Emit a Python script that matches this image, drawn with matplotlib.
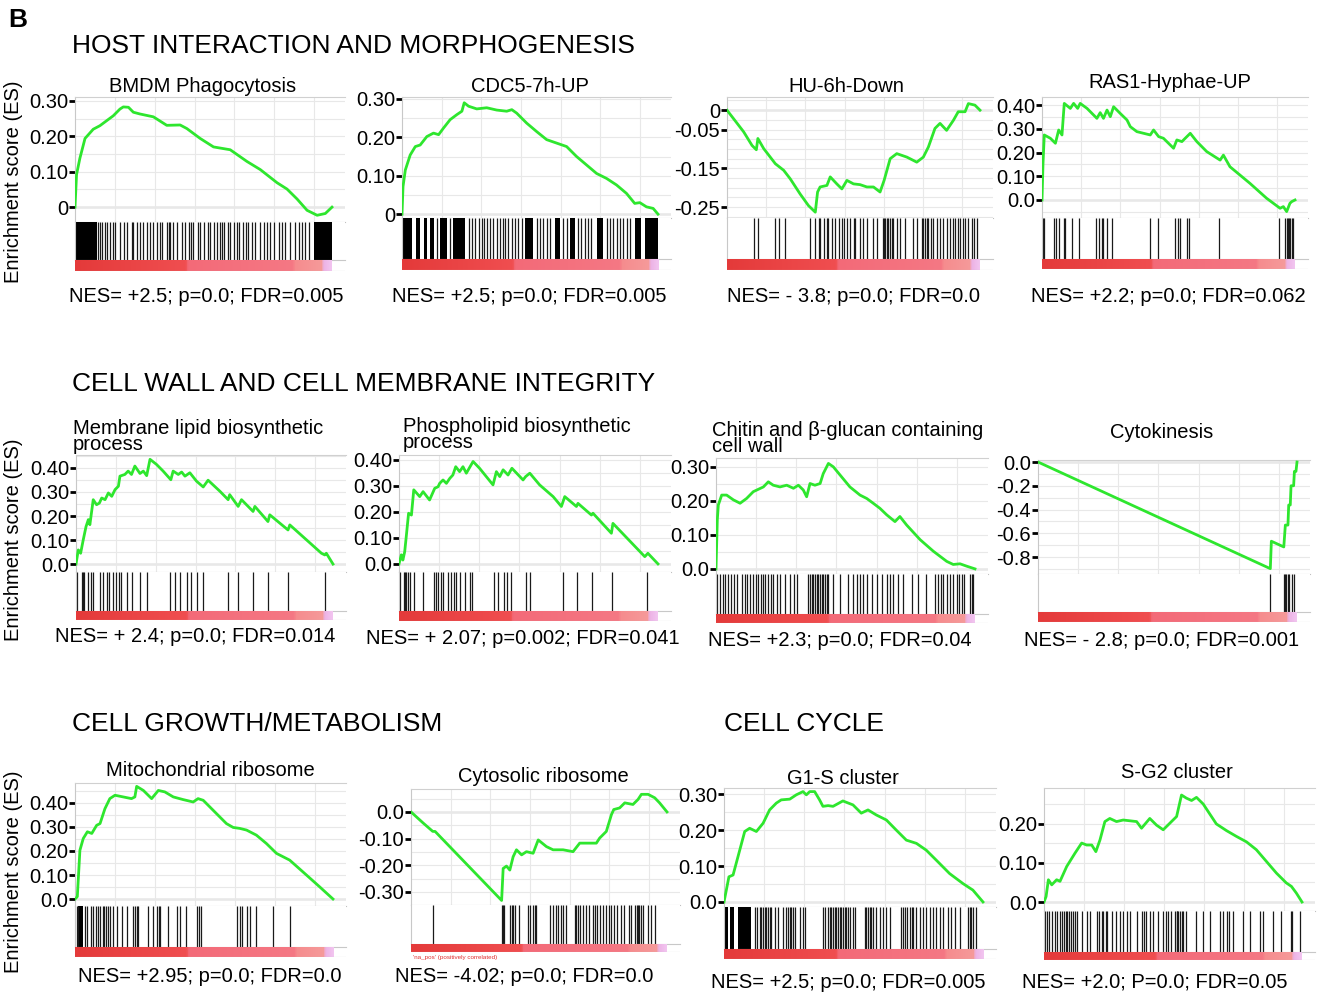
import numpy as np
import matplotlib
matplotlib.use("Agg")
import matplotlib.pyplot as plt
from matplotlib.colors import LinearSegmentedColormap

plt.rcParams['font.family'] = ['Liberation Sans', 'DejaVu Sans']

# ---- data: ES curves (x = % of ranked list), hits (% of ranked list) ----
bmdm_x = [0, 0.6, 1.9, 3.9, 7.1, 9.7, 14.9, 17.5, 18.8, 20.8, 22.7, 25.3, 30.5, 35.7, 40.9, 43.5, 48.7,
          53.9, 60.4, 66.9, 72.1, 78.6, 82.5, 86.4, 90.3, 94.2, 97.4, 100]
bmdm_es = [0, 0.092, 0.138, 0.194, 0.22, 0.23, 0.258, 0.277, 0.283, 0.282, 0.268, 0.263, 0.255, 0.231,
           0.232, 0.222, 0.194, 0.17, 0.162, 0.129, 0.106, 0.069, 0.051, 0.023, -0.009, -0.023, -0.018, 0]
bmdm_hits = [9.1, 9.7, 10.4, 11.7, 12.3, 13.6, 14.9, 15.6, 17.5, 19.1, 20.1, 22.1, 22.7, 24.0, 25.1, 26.6,
             27.9, 29.0, 30.5, 31.8, 32.9, 33.8, 35.7, 36.4, 37.0, 38.3, 39.6, 41.6, 42.9, 44.2, 45.1, 46.1,
             47.7, 48.7, 50.3, 51.6, 52.6, 53.9, 55.2, 56.5, 57.1, 58.1, 59.4, 60.4, 61.7, 63.0, 64.0, 65.3,
             66.6, 67.5, 68.8, 70.1, 72.1, 73.4, 74.7, 76.0, 77.3, 79.2, 80.5, 81.8, 83.8, 85.7, 87.0, 88.3,
             89.6, 90.9]
bmdm_blocks = [(0, 8.5), (93, 100)]

cdc5_x = [0, 0.4, 1.3, 3.2, 5.2, 7.1, 9.7, 12.3, 14.3, 16.2, 18.8, 21.4, 23.4, 24.3, 26.0, 29.2, 33.1,
          37.0, 40.9, 42.9, 44.8, 48.7, 52.6, 56.5, 60.4, 64.3, 68.2, 72.1, 76.0, 79.9, 83.8, 87.7, 90.9,
          92.9, 95.5, 98.1, 100]
cdc5_es = [0, 0.072, 0.115, 0.154, 0.176, 0.18, 0.202, 0.211, 0.207, 0.224, 0.246, 0.259, 0.268, 0.29,
           0.281, 0.274, 0.277, 0.271, 0.268, 0.272, 0.263, 0.237, 0.215, 0.194, 0.185, 0.176, 0.15, 0.128,
           0.106, 0.093, 0.076, 0.054, 0.028, 0.03, 0.019, 0.015, 0]
cdc5_hits = [13.6, 18.8, 26.0, 27.3, 28.6, 29.9, 31.2, 32.1, 33.1, 34.4, 35.7, 37.0, 38.1, 39.4, 40.3,
             41.6, 42.9, 44.2, 45.5, 46.8, 52.6, 53.9, 55.2, 56.5, 57.8, 63.0, 64.3, 68.8, 70.1, 71.4,
             72.7, 74.0, 79.9, 81.2, 82.5, 83.8, 85.1, 86.4, 87.7, 89.0]
cdc5_blocks = [(0, 3.9), (5.6, 7.1), (8.4, 9.7), (11.0, 12.6), (14.9, 17.5), (20.1, 24.7), (48.0, 51.3),
               (59.7, 61.7), (65.6, 67.5), (76.0, 78.6), (90.9, 93.5), (94.8, 100)]

hu_x = [0, 2.6, 6.6, 9.9, 11.6, 12.2, 14.5, 17.1, 19.1, 22.4, 25.0, 28.9, 32.2, 34.9, 35.8, 36.8, 39.5,
        40.8, 43.4, 45.4, 47.4, 50.0, 52.6, 55.3, 57.9, 60.5, 62.1, 64.5, 67.1, 71.1, 75.0, 77.6, 79.6,
        82.2, 84.2, 86.8, 89.5, 91.4, 94.1, 95.4, 98.0, 100]
hu_es = [0, -0.022, -0.056, -0.091, -0.102, -0.073, -0.099, -0.121, -0.138, -0.155, -0.177, -0.216,
         -0.246, -0.263, -0.211, -0.198, -0.194, -0.172, -0.19, -0.203, -0.181, -0.19, -0.192, -0.198,
         -0.198, -0.211, -0.181, -0.125, -0.112, -0.121, -0.134, -0.121, -0.095, -0.047, -0.034, -0.052,
         -0.026, -0.004, -0.004, 0.017, 0.013, 0]
hu_hits = [10.5, 12.1, 19.1, 20.4, 23.0, 32.9, 34.9, 36.2, 36.8, 38.2, 39.5, 40.1, 41.4, 42.8, 44.1,
           45.4, 46.1, 47.4, 48.7, 50.0, 50.7, 52.6, 53.9, 55.3, 57.9, 59.2, 61.6, 62.1, 62.6, 63.2, 63.8,
           64.5, 65.1, 65.8, 67.1, 68.4, 70.4, 73.7, 75.0, 77.0, 77.6, 78.3, 78.9, 79.6, 80.5, 81.6, 82.9,
           84.2, 85.5, 86.8, 88.2, 89.2, 90.1, 91.2, 92.1, 93.4, 94.1, 95.4, 96.7, 97.6, 98.7]

ras1_x = [0, 0.4, 0.9, 3.3, 5.3, 6.6, 7.9, 8.8, 11.2, 12.5, 14.1, 15.1, 17.8, 20.4, 21.7, 23.0, 24.3,
          25.7, 27.0, 28.3, 30.9, 33.6, 34.9, 37.5, 42.8, 44.1, 46.1, 48.0, 52.0, 53.3, 55.3, 56.6, 58.6,
          61.2, 65.1, 70.4, 71.7, 74.3, 82.2, 88.8, 94.1, 95.4, 96.7, 98.0, 98.7, 100]
ras1_es = [0, 0.154, 0.274, 0.26, 0.239, 0.295, 0.274, 0.407, 0.386, 0.407, 0.386, 0.407, 0.386, 0.358,
           0.344, 0.368, 0.344, 0.379, 0.351, 0.393, 0.365, 0.337, 0.309, 0.288, 0.274, 0.295, 0.267, 0.26,
           0.218, 0.253, 0.246, 0.26, 0.281, 0.246, 0.204, 0.168, 0.189, 0.14, 0.07, 0.007, -0.035, -0.028,
           -0.049, -0.014, -0.007, 0]
ras1_hits = [0.3, 0.7, 4.6, 5.5, 6.6, 8.6, 9.2, 11.8, 14.5, 21.4, 22.4, 23.7, 24.3, 25.7, 27.6, 42.8,
             45.7, 52.6, 53.6, 54.6, 57.2, 58.3, 70.1, 93.8, 96.1, 96.7, 97.1, 97.6, 98.0, 98.7, 99.3]

memb_x = [0, 0.9, 1.8, 2.8, 3.9, 4.8, 5.4, 6.7, 8.0, 9.1, 10.0, 11.3, 12.6, 13.9, 15.2, 16.5, 17.1,
          19.0, 20.3, 21.6, 22.9, 24.9, 26.2, 27.5, 28.8, 31.3, 33.9, 36.9, 37.8, 39.8, 41.1, 42.4, 44.3,
          46.9, 49.5, 51.4, 56.0, 59.2, 59.8, 63.1, 64.4, 68.9, 69.6, 74.7, 75.4, 82.5, 83.2, 95.5, 96.8,
          97.4, 100]
memb_es = [0, 0.059, 0.045, 0.1, 0.156, 0.185, 0.164, 0.268, 0.247, 0.254, 0.275, 0.268, 0.296, 0.282,
           0.31, 0.324, 0.366, 0.373, 0.387, 0.373, 0.408, 0.377, 0.387, 0.368, 0.436, 0.415, 0.387, 0.351,
           0.387, 0.373, 0.383, 0.366, 0.38, 0.345, 0.321, 0.349, 0.303, 0.268, 0.289, 0.24, 0.268, 0.219,
           0.24, 0.177, 0.205, 0.142, 0.163, 0.045, 0.038, 0.045, 0]
memb_hits = [0.5, 2.2, 2.8, 3.2, 4.8, 5.7, 6.5, 9.3, 10.6, 11.9, 13.0, 14.5, 15.5, 16.8, 17.7, 19.7,
             21.6, 24.9, 27.5, 36.5, 38.5, 40.4, 43.0, 44.9, 46.9, 49.5, 59.2, 63.1, 68.9, 74.7, 82.5, 96.8]

phos_x = [0, 0.9, 1.5, 2.2, 2.8, 3.7, 4.8, 5.7, 8.0, 9.3, 11.8, 13.8, 15.1, 15.7, 17.0, 18.3, 19.6,
          20.8, 21.9, 23.4, 24.7, 26.0, 28.6, 31.1, 36.3, 37.6, 38.9, 40.2, 42.1, 43.6, 47.9, 48.9, 50.5,
          54.3, 59.5, 62.7, 64.0, 68.5, 69.1, 74.3, 74.9, 82.0, 82.6, 94.9, 96.1, 100]
phos_es = [0, 0.035, 0.015, 0.047, 0.105, 0.195, 0.188, 0.285, 0.259, 0.278, 0.246, 0.291, 0.297, 0.31,
           0.323, 0.31, 0.329, 0.342, 0.374, 0.355, 0.374, 0.349, 0.394, 0.368, 0.304, 0.355, 0.336, 0.362,
           0.342, 0.368, 0.323, 0.336, 0.349, 0.304, 0.259, 0.221, 0.259, 0.221, 0.233, 0.188, 0.195,
           0.118, 0.156, 0.028, 0.041, 0]
phos_hits = [0.5, 1.9, 2.4, 2.8, 3.5, 4.1, 5.7, 9.3, 13.4, 14.2, 15.1, 16.3, 17.0, 18.9, 19.9, 21.1,
             21.9, 23.7, 25.4, 27.3, 28.3, 36.6, 38.2, 40.4, 41.7, 43.4, 48.9, 50.5, 63.3, 68.7, 74.6,
             82.4, 95.8]

chit_x = [0, 0.5, 0.9, 2.2, 4.1, 6.7, 9.3, 11.8, 14.4, 18.3, 20.2, 22.1, 24.7, 27.3, 29.9, 31.8, 33.7,
          35.0, 36.3, 38.2, 40.2, 41.4, 43.4, 45.3, 47.9, 51.7, 55.6, 58.2, 60.7, 63.3, 65.9, 69.1, 71.0,
          73.6, 78.8, 83.9, 86.5, 89.1, 91.6, 94.2, 96.8, 100]
chit_es = [0, 0.144, 0.188, 0.217, 0.217, 0.203, 0.193, 0.207, 0.227, 0.241, 0.256, 0.246, 0.241, 0.246,
           0.237, 0.246, 0.232, 0.212, 0.251, 0.246, 0.251, 0.28, 0.31, 0.3, 0.276, 0.241, 0.217, 0.207,
           0.193, 0.178, 0.159, 0.139, 0.154, 0.129, 0.086, 0.052, 0.037, 0.022, 0.013, 0.015, 0.008, 0]
chit_hits = [0.5, 1.5, 2.6, 3.5, 4.8, 5.7, 6.9, 8.2, 9.9, 11.2, 11.8, 13.1, 14.4, 15.4, 16.3, 17.2, 18.0,
             18.9, 20.2, 21.1, 22.1, 23.4, 24.7, 26.6, 28.6, 30.1, 31.1, 35.6, 36.3, 36.9, 37.6, 38.2,
             38.9, 39.5, 40.2, 40.8, 41.4, 42.1, 42.7, 43.4, 45.0, 47.9, 51.1, 53.0, 54.3, 55.6, 56.9, 58.2,
             60.1, 62.0, 64.0, 65.9, 67.2, 68.5, 70.4, 72.3, 75.5, 78.1, 81.1, 84.6, 85.8, 86.7, 87.8,
             89.1, 90.3, 91.6, 92.9, 93.8, 94.9, 95.8, 98.1, 98.7, 99.4]

cyto_x = [0, 89.7, 90.1, 94.9, 95.5, 96.5, 96.8, 97.4, 97.7, 98.7, 99.0, 99.6, 100]
cyto_es = [0, -0.898, -0.667, -0.715, -0.531, -0.531, -0.362, -0.362, -0.2, -0.2, -0.079, -0.079, 0]
cyto_hits = [89.7, 94.9, 95.5, 95.9, 96.5, 97.0, 98.1, 99.0]

mito_x = [0, 0.9, 1.9, 3.2, 4.8, 6.5, 8.4, 9.7, 11.6, 13.5, 15.5, 18.7, 21.9, 23.2, 23.9, 26.5, 29.7,
          32.3, 34.8, 38.1, 41.9, 45.8, 47.7, 49.7, 53.5, 58.7, 61.3, 63.9, 66.5, 70.3, 74.2, 78.1, 83.2,
          89.7, 94.8, 100]
mito_es = [0, 0.01, 0.203, 0.252, 0.28, 0.273, 0.307, 0.314, 0.376, 0.418, 0.432, 0.425, 0.418, 0.425,
           0.469, 0.452, 0.418, 0.452, 0.446, 0.425, 0.414, 0.404, 0.418, 0.411, 0.37, 0.314, 0.298, 0.294,
           0.287, 0.266, 0.231, 0.19, 0.162, 0.1, 0.051, 0]
mito_hits = [0.6, 1.3, 3.9, 4.8, 6.1, 7.1, 8.0, 9.0, 9.7, 10.7, 11.4, 12.0, 12.6, 13.5, 14.8, 16.1,
             18.1, 20.0, 22.6, 23.2, 23.9, 24.3, 28.4, 30.3, 31.6, 32.5, 32.9, 36.1, 39.4, 40.6, 43.2,
             47.4, 48.0, 49.0, 62.6, 63.9, 64.9, 66.5, 67.7, 70.3, 76.8, 83.2]
mito_blocks = [(1.0, 3.2)]

ribo_x = [0, 4.8, 8.5, 9.4, 35.4, 36.0, 37.3, 38.6, 39.9, 41.2, 43.2, 45.1, 47.7, 49.7, 52.9, 55.5,
          59.4, 63.3, 65.9, 68.5, 72.4, 73.7, 76.3, 78.3, 79.2, 81.5, 83.5, 86.7, 88.7, 90.0, 92.6, 95.2,
          97.1, 100]
ribo_es = [0, -0.042, -0.073, -0.073, -0.332, -0.212, -0.203, -0.218, -0.168, -0.142, -0.161, -0.149,
           -0.155, -0.105, -0.13, -0.142, -0.142, -0.149, -0.117, -0.117, -0.117, -0.098, -0.073, -0.01,
           0.009, 0.015, 0.034, 0.028, 0.047, 0.066, 0.066, 0.053, 0.034, 0]
ribo_hits = [8.5, 35.4, 35.8, 36.3, 38.6, 39.3, 39.9, 40.6, 42.3, 45.8, 46.4, 47.5, 48.4, 49.0, 54.3,
             55.3, 56.6, 57.5, 58.4, 59.4, 60.7, 64.0, 64.6, 65.4, 66.2, 67.0, 68.3, 69.6, 70.9, 71.8,
             72.7, 74.0, 75.0, 76.3, 77.4, 78.3, 79.2, 80.5, 82.2, 83.1, 85.2, 86.1, 87.4, 88.3, 88.7,
             89.1, 90.0, 90.6, 92.6, 93.9, 95.2]

g1s_x = [0, 0.9, 1.9, 3.5, 5.4, 8.0, 9.9, 12.5, 15.1, 17.6, 20.2, 22.1, 25.4, 27.9, 30.5, 31.8, 33.1,
         35.0, 36.9, 38.2, 40.2, 42.1, 45.9, 49.8, 53.0, 55.6, 58.8, 62.7, 66.5, 70.4, 74.3, 78.1, 82.0,
         87.1, 92.3, 96.1, 100]
g1s_es = [0, 0.033, 0.07, 0.075, 0.126, 0.196, 0.205, 0.196, 0.219, 0.256, 0.275, 0.284, 0.286, 0.298,
          0.307, 0.298, 0.307, 0.307, 0.284, 0.266, 0.268, 0.266, 0.281, 0.27, 0.247, 0.256, 0.242, 0.228,
          0.2, 0.172, 0.163, 0.144, 0.116, 0.079, 0.051, 0.033, 0]
g1s_hits = [11.8, 12.7, 13.8, 14.4, 15.1, 15.7, 16.3, 17.0, 17.6, 18.3, 19.6, 20.8, 22.8, 24.1, 24.7,
            25.4, 26.0, 26.6, 27.3, 29.2, 30.5, 31.1, 38.2, 38.9, 40.2, 40.8, 41.4, 42.1, 42.7, 43.4, 44.0,
            44.7, 45.3, 45.9, 46.6, 47.2, 47.9, 48.5, 49.8, 50.5, 54.3, 55.0, 55.6, 56.3, 56.9, 57.5, 58.8,
            60.1, 61.4, 62.7, 64.0, 68.5, 69.2, 69.8, 70.5, 71.7, 72.4, 73.0, 74.3, 75.5, 76.8, 78.1, 79.4,
            80.7, 82.0, 83.3, 84.6, 86.5, 87.8, 89.1, 91.0, 94.2, 94.9, 95.5, 96.1, 97.4]
g1s_blocks = [(0, 1.5), (2.5, 4.0), (5.5, 10.5)]

sg2_x = [0, 0.8, 1.7, 3.0, 4.9, 6.2, 8.8, 12.0, 14.6, 16.5, 18.5, 20.1, 21.7, 23.6, 25.5, 28.1, 30.7,
         33.3, 35.9, 37.8, 41.0, 43.6, 46.2, 48.8, 51.4, 53.3, 55.2, 57.2, 59.1, 61.7, 66.8, 70.7, 74.6,
         78.5, 82.3, 86.2, 90.1, 93.9, 95.9, 97.8, 100]
sg2_es = [0, 0.014, 0.057, 0.044, 0.057, 0.053, 0.091, 0.125, 0.151, 0.146, 0.146, 0.129, 0.159, 0.206,
          0.214, 0.206, 0.21, 0.208, 0.206, 0.189, 0.214, 0.197, 0.185, 0.202, 0.219, 0.274, 0.266, 0.26,
          0.268, 0.251, 0.2, 0.183, 0.168, 0.154, 0.134, 0.104, 0.074, 0.049, 0.04, 0.023, 0]
sg2_hits = [0.4, 1.3, 2.1, 3.0, 4.3, 4.9, 6.2, 6.8, 7.7, 8.5, 9.0, 9.8, 10.3, 11.1, 12.0, 12.9, 14.6,
            16.5, 17.8, 20.6, 21.4, 22.3, 23.0, 24.0, 24.5, 26.2, 27.9, 29.4, 30.7, 32.0, 33.3, 35.9, 37.8,
            38.7, 39.7, 41.0, 42.3, 44.3, 46.2, 47.2, 48.1, 49.4, 50.7, 51.4, 51.7, 52.1, 52.6, 53.3, 53.9,
            55.2, 59.1, 61.7, 64.3, 68.1, 69.4, 71.0, 71.7, 73.3, 77.2, 79.7, 83.6, 84.9, 88.8, 92.0, 95.6,
            96.3, 99.1]

titles = ["BMDM Phagocytosis", "CDC5-7h-UP", "HU-6h-Down", "RAS1-Hyphae-UP",
          "Membrane lipid biosynthetic\nprocess", "Phospholipid biosynthetic\nprocess",
          "Chitin and \u03b2-glucan containing\ncell wall", "Cytokinesis",
          "Mitochondrial ribosome", "Cytosolic ribosome", "G1-S cluster", "S-G2 cluster"]
stats = ["NES= +2.5; p=0.0; FDR=0.005", "NES= +2.5; p=0.0; FDR=0.005", "NES= - 3.8; p=0.0; FDR=0.0",
         "NES= +2.2; p=0.0; FDR=0.062", "NES= + 2.4; p=0.0; FDR=0.014", "NES= + 2.07; p=0.002; FDR=0.041",
         "NES= +2.3; p=0.0; FDR=0.04", "NES= - 2.8; p=0.0; FDR=0.001", "NES= +2.95; p=0.0; FDR=0.0",
         "NES= -4.02; p=0.0; FDR=0.0", "NES= +2.5; p=0.0; FDR=0.005", "NES= +2.0; P=0.0; FDR=0.05"]
yticks = [[0, 0.10, 0.20, 0.30], [0, 0.10, 0.20, 0.30], [0, -0.05, -0.15, -0.25],
          [0.0, 0.10, 0.20, 0.30, 0.40], [0.0, 0.10, 0.20, 0.30, 0.40], [0.0, 0.10, 0.20, 0.30, 0.40],
          [0.0, 0.10, 0.20, 0.30], [0.0, -0.2, -0.4, -0.6, -0.8], [0.0, 0.10, 0.20, 0.30, 0.40],
          [0.0, -0.10, -0.20, -0.30], [0.0, 0.10, 0.20, 0.30], [0.0, 0.10, 0.20]]
ylabels = [["0", "0.10", "0.20", "0.30"], ["0", "0.10", "0.20", "0.30"], ["0", "-0.05", "-0.15", "-0.25"],
           ["0.0", "0.10", "0.20", "0.30", "0.40"], ["0.0", "0.10", "0.20", "0.30", "0.40"],
           ["0.0", "0.10", "0.20", "0.30", "0.40"], ["0.0", "0.10", "0.20", "0.30"],
           ["0.0", "-0.2", "-0.4", "-0.6", "-0.8"], ["0.0", "0.10", "0.20", "0.30", "0.40"],
           ["0.0", "-0.10", "-0.20", "-0.30"], ["0.0", "0.10", "0.20", "0.30"], ["0.0", "0.10", "0.20"]]

curves = [(bmdm_x, bmdm_es, bmdm_hits, bmdm_blocks), (cdc5_x, cdc5_es, cdc5_hits, cdc5_blocks),
          (hu_x, hu_es, hu_hits, []), (ras1_x, ras1_es, ras1_hits, []),
          (memb_x, memb_es, memb_hits, []), (phos_x, phos_es, phos_hits, []),
          (chit_x, chit_es, chit_hits, []), (cyto_x, cyto_es, cyto_hits, []),
          (mito_x, mito_es, mito_hits, mito_blocks), (ribo_x, ribo_es, ribo_hits, []),
          (g1s_x, g1s_es, g1s_hits, g1s_blocks), (sg2_x, sg2_es, sg2_hits, [])]

# ---- layout in pixels: x0, data width, top, es bottom, hits bottom, bar bottom, ylim ----
layout = [
    (75, 257, 97, 222, 260, 271, (-0.042, 0.311)),
    (402, 256, 97, 218, 259, 270, (-0.010, 0.305)),
    (727, 253, 97, 218, 259, 270, (-0.278, 0.034)),
    (1042, 253, 97, 218, 259, 269, (-0.076, 0.434)),
    (76, 257, 455, 572, 611, 620, (-0.033, 0.454)),
    (399, 259, 455, 572, 611, 621, (-0.031, 0.419)),
    (716, 259, 458, 574, 614, 623, (-0.015, 0.326)),
    (1038, 259, 460, 574, 612, 622, (-0.943, 0.017)),
    (75, 258, 783, 906, 947, 957, (-0.029, 0.483)),
    (411, 256, 789, 905, 944, 952, (-0.349, 0.086)),
    (724, 259, 788, 907, 949, 959, (-0.014, 0.317)),
    (1044, 258, 788, 911, 952, 960, (-0.023, 0.292)),
]
title_pos = [(203, 86, 'center'), (530, 86, 'center'), (846, 86, 'center'), (1170, 82, 'center'),
             (73, 436, 'left'), (403, 434, 'left'), (712, 439, 'left'), (1162, 432, 'center'),
             (210, 770, 'center'), (543, 776, 'center'), (843, 778, 'center'), (1177, 772, 'center')]
stat_pos = [(206, 296), (529, 296), (853, 296), (1168, 296), (195, 636), (523, 638), (840, 640),
            (1162, 640), (210, 976), (524, 976), (848, 982), (1155, 982)]

W, H = 1326, 994
fig = plt.figure(figsize=(W / 100, H / 100), dpi=100)

bar_cmap = LinearSegmentedColormap.from_list("rank", [
    (0.0, '#e43a3a'), (0.43, '#f04e50'), (0.44, '#f36a78'), (0.85, '#f57884'),
    (0.86, '#f68c8e'), (0.965, '#f59a9a'), (0.97, '#ecb2e4'), (1.0, '#f2c4f0')])
grad = np.linspace(0, 1, 400).reshape(1, -1)

XMAX = 105

for i in range(12):
    x0, w, top, esb, hb, bb, ylim = layout[i]
    xs, es, hits, blocks = curves[i]
    aw = w * XMAX / 100.0

    ax = fig.add_axes([x0 / W, 1 - esb / H, aw / W, (esb - top) / H])
    ax.set_xticks(np.arange(15.5, 101, 15.5))
    ax.tick_params(axis='x', length=0, labelbottom=False)
    tk = yticks[i]
    ax.set_yticks(tk)
    ax.set_yticklabels(ylabels[i])
    step = abs(tk[1] - tk[0]) / 2.0
    ax.set_yticks(np.arange(min(tk) - step, max(tk) + 2 * step, step), minor=True)
    ax.set_xlim(0, XMAX)
    ax.set_ylim(*ylim)
    ax.tick_params(axis='y', which='major', length=4, width=2, color='black', pad=1, labelsize=14.5)
    ax.tick_params(axis='y', which='minor', length=0)
    ax.grid(True, which='both', color='#e8e8e8', lw=0.8)
    ax.axhline(0, color='#a8a8a8', lw=1.0, zorder=1)
    ax.spines['right'].set_visible(False)
    ax.spines['left'].set_color('#c8c8c8')
    ax.spines['top'].set_color('#d0d0d0')
    ax.spines['bottom'].set_color('#c0c0c0')
    ax.spines['bottom'].set_linewidth(0.8)
    ax.plot(xs, es, color='#2ee62e', lw=2.0, zorder=3, solid_joinstyle='round')

    axh = fig.add_axes([x0 / W, 1 - hb / H, aw / W, (hb - esb) / H])
    axh.set_xlim(0, XMAX)
    axh.set_ylim(0, 1)
    axh.vlines(hits, 0, 1, color='#1a1a1a', lw=0.9)
    for a, b in blocks:
        axh.axvspan(a, b, color='black', lw=0)
    axh.set_xticks([])
    axh.set_yticks([])
    axh.spines['top'].set_visible(False)
    axh.spines['right'].set_visible(False)
    axh.spines['left'].set_color('#c8c8c8')
    axh.spines['bottom'].set_color('#c8c8c8')
    axh.spines['bottom'].set_linewidth(0.8)

    axb = fig.add_axes([x0 / W, 1 - bb / H, aw / W, (bb - hb) / H])
    axb.set_xlim(0, XMAX)
    axb.set_ylim(0, 1)
    axb.imshow(grad, cmap=bar_cmap, aspect='auto', extent=[0, 100, 0, 1])
    axb.axis('off')
    axb.axhline(0.0, color='#c8c8c8', lw=0.8, xmin=0, xmax=1)

    tx, ty, ha = title_pos[i]
    if '\n' in titles[i]:
        fig.text(tx / W, 1 - ty / H, titles[i], ha=ha, va='center', fontsize=14.5, linespacing=0.8)
    else:
        fig.text(tx / W, 1 - ty / H, titles[i], ha=ha, va='center', fontsize=14.5)
    sx, sy = stat_pos[i]
    fig.text(sx / W, 1 - sy / H, stats[i], ha='center', va='center', fontsize=14.5)

fig.text(413 / W, 1 - 958 / H, "'na_pos' (positively correlated)", color='#e03030', fontsize=4.5,
         ha='left', va='center')

for yc in [182, 540, 872]:
    fig.text(14 / W, 1 - yc / H, "Enrichment score (ES)", rotation=90, ha='center', va='center',
             fontsize=14.5)

fig.text(8 / W, 1 - 20 / H, "B", fontsize=19, fontweight='bold', ha='left', va='center')
fig.text(72 / W, 1 - 46 / H, "HOST INTERACTION AND MORPHOGENESIS", fontsize=19, ha='left', va='center')
fig.text(72 / W, 1 - 384 / H, "CELL WALL AND CELL MEMBRANE INTEGRITY", fontsize=19, ha='left', va='center')
fig.text(72 / W, 1 - 724 / H, "CELL GROWTH/METABOLISM", fontsize=19, ha='left', va='center')
fig.text(724 / W, 1 - 724 / H, "CELL CYCLE", fontsize=19, ha='left', va='center')

fig.savefig("out.png", dpi=100)
